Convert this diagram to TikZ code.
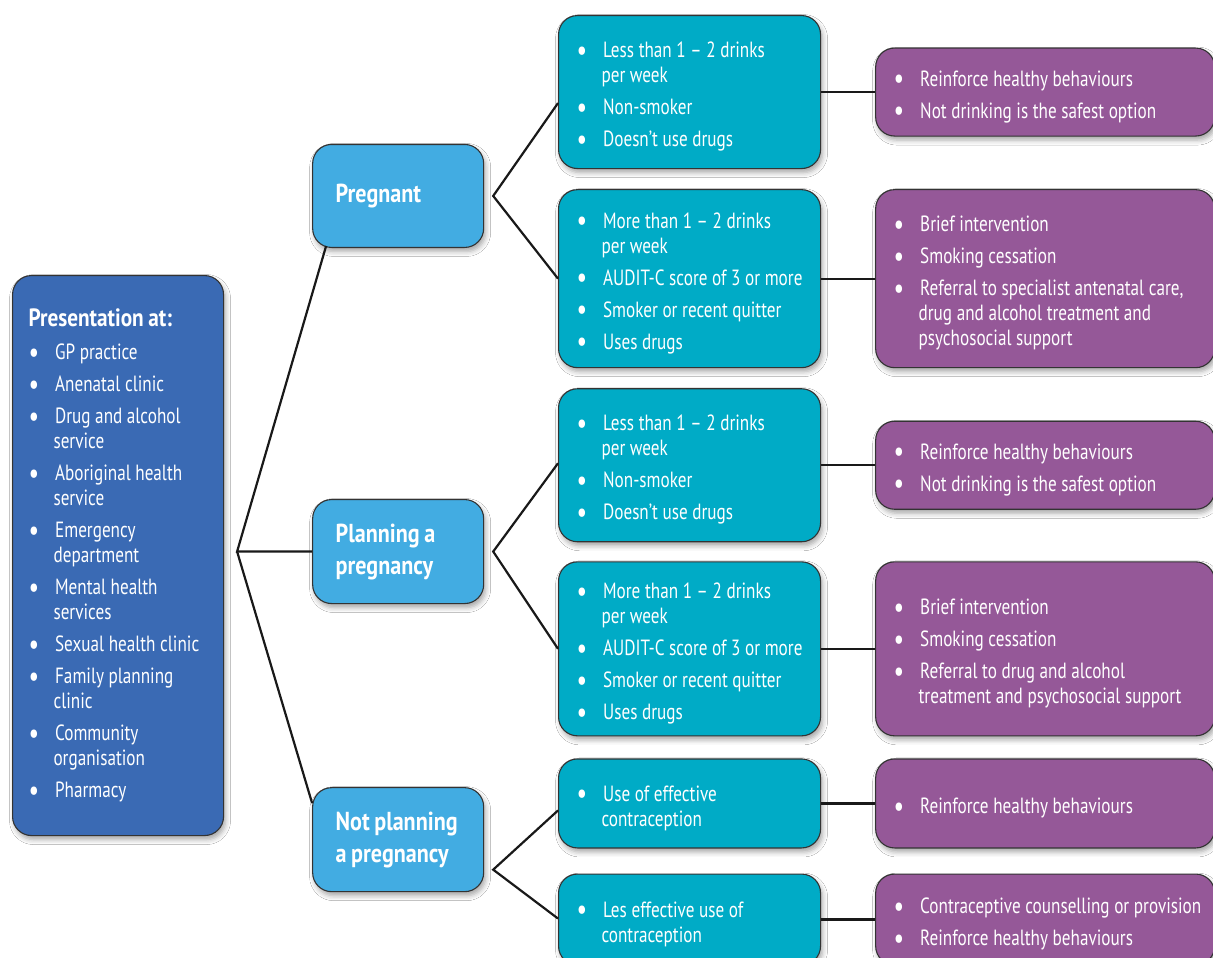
\documentclass[tikz,border=0pt]{standalone}
\usepackage{fontspec}
\setmainfont[FakeStretch=0.78, BoldFeatures={FakeStretch=0.85}]{PT Sans}
\usetikzlibrary{positioning,shadows.blur}
\definecolor{presblue}{RGB}{58,106,180}
\definecolor{stageblue}{RGB}{66,172,226}
\definecolor{riskteal}{RGB}{0,171,198}
\definecolor{actpurple}{RGB}{149,88,152}
\newcommand{\dotmark}{{\fontsize{30}{0}\selectfont\raisebox{-2.5pt}{\textbullet}}}
\newcommand{\tightspace}{\spaceskip=4.6pt plus 1pt minus 1pt\xspaceskip=5pt\relax
	\hyphenpenalty=10000\exhyphenpenalty=10000}
\newenvironment{dotlist}{%
	\begin{list}{\dotmark}{%
		\setlength{\leftmargin}{25pt}\setlength{\labelwidth}{9pt}%
		\setlength{\labelsep}{16pt}\setlength{\itemsep}{7pt}%
		\setlength{\parsep}{0pt}\setlength{\topsep}{0pt}%
		\setlength{\partopsep}{0pt}}}{\end{list}}
\tikzset{
	box/.style={draw=black!80, line width=1.1pt, rounded corners=19pt,
		text=white, align=left, font=\fontsize{22}{25}\selectfont,
		execute at begin node=\tightspace,
		blur shadow={shadow xshift=2pt, shadow yshift=-4pt,
			shadow blur radius=5pt, shadow opacity=35}},
	pres/.style={box, fill=presblue, text width=179pt, inner xsep=16pt},
	stage/.style={box, fill=stageblue, text width=125pt, inner xsep=23pt,
		font=\bfseries\fontsize{26}{32}\selectfont},
	risk/.style={box, fill=riskteal, text width=226pt, inner xsep=18pt},
	act/.style={box, fill=actpurple, text width=303pt, inner xsep=18pt},
	link/.style={draw=black!90, line width=2.2pt}
}
\begin{document}
\begin{tikzpicture}[x=1pt,y=-1pt]
\useasboundingbox[fill=white] (0,0) rectangle (1213,958);

	\node[pres, minimum height=560pt, anchor=north west] (pres) at (12,275)
		{{\bfseries\fontsize{25}{25}\selectfont Presentation at:}\par\vspace{8pt}
		\begin{dotlist}
		\item GP practice
		\item Anenatal clinic
		\item Drug and alcohol\\ service
		\item Aboriginal health\\ service
		\item Emergency\\ department
		\item Mental health\\ services
		\item Sexual health clinic
		\item Family planning\\ clinic
		\item Community\\ organisation
		\item Pharmacy
		\end{dotlist}};

	\node[stage, minimum height=104pt, right=88pt of pres, yshift=4pt] (plan) {Planning a\\ pregnancy};
	\node[stage, minimum height=103pt, above=251pt of plan] (preg) {Pregnant};
	\node[stage, minimum height=104pt, below=183pt of plan] (noplan) {Not planning\\ a pregnancy};

	\node[risk, minimum height=153pt, anchor=north west] (r1) at (558,15)
		{\begin{dotlist}
		\item Less than 1 -- 2 drinks\\ per week
		\item Non-smoker
		\item Doesn’t use drugs
		\end{dotlist}};
	\node[risk, minimum height=178pt, below=20pt of r1] (r2)
		{\begin{dotlist}
		\item More than 1 -- 2 drinks\\ per week
		\item AUDIT-C score of 3 or more
		\item Smoker or recent quitter
		\item Uses drugs
		\end{dotlist}};
	\node[risk, minimum height=153pt, below=20pt of r2] (r3)
		{\begin{dotlist}
		\item Less than 1 -- 2 drinks\\ per week
		\item Non-smoker
		\item Doesn’t use drugs
		\end{dotlist}};
	\node[risk, minimum height=174pt, below=19pt of r3] (r4)
		{\begin{dotlist}
		\item More than 1 -- 2 drinks\\ per week
		\item AUDIT-C score of 3 or more
		\item Smoker or recent quitter
		\item Uses drugs
		\end{dotlist}};
	\node[risk, minimum height=89pt, below=22pt of r4] (r5)
		{\begin{dotlist}
		\item Use of effective\\ contraception
		\end{dotlist}};
	\node[risk, minimum height=91pt, below=25pt of r5] (r6)
		{\begin{dotlist}
		\item Les effective use of\\ contraception
		\end{dotlist}};

	\node[act, minimum height=88pt, right=54pt of r1] (a1)
		{\begin{dotlist}
		\item Reinforce healthy behaviours
		\item Not drinking is the safest option
		\end{dotlist}};
	\node[act, minimum height=178pt, right=54pt of r2] (a2)
		{\begin{dotlist}
		\item Brief intervention
		\item Smoking cessation
		\item Referral to specialist antenatal care,\\ drug and alcohol treatment and\\ psychosocial support
		\end{dotlist}};
	\node[act, minimum height=88pt, right=54pt of r3] (a3)
		{\begin{dotlist}
		\item Reinforce healthy behaviours
		\item Not drinking is the safest option
		\end{dotlist}};
	\node[act, minimum height=174pt, right=54pt of r4] (a4)
		{\begin{dotlist}
		\item Brief intervention
		\item Smoking cessation
		\item Referral to drug and alcohol\\ treatment and psychosocial support
		\end{dotlist}};
	\node[act, minimum height=89pt, right=54pt of r5] (a5)
		{\begin{dotlist}
		\item Reinforce healthy behaviours
		\end{dotlist}};
	\node[act, minimum height=91pt, right=54pt of r6] (a6)
		{\begin{dotlist}
		\item \makebox[200pt][l]{Contraceptive counselling or provision}
		\item Reinforce healthy behaviours
		\end{dotlist}};

	% branch points
	\coordinate[left=75pt of plan.west] (hub);
	\coordinate[right=9pt of preg.east] (fork1);
	\coordinate[right=9pt of plan.east] (fork2);
	\coordinate[right=9pt of noplan.east, yshift=-30pt] (fork3);

	\draw[link] ([xshift=14pt,yshift=2pt]preg.south west) -- (hub) -- (plan.west);
	\draw[link] (hub) -- ([yshift=-16pt]noplan.north west);
	\draw[link] ([yshift=-11pt]r1.west) -- (fork1) -- (r2.west);
	\draw[link] ([yshift=2pt]r3.west) -- (fork2) -- (r4.west);
	\draw[link] ([yshift=-7pt]r5.west) -- (fork3) -- ([yshift=1pt]r6.west);
	\foreach \i in {1,...,6}
		\draw[link] (r\i.east) -- (r\i.east -| a\i.west);
\end{tikzpicture}
\end{document}
